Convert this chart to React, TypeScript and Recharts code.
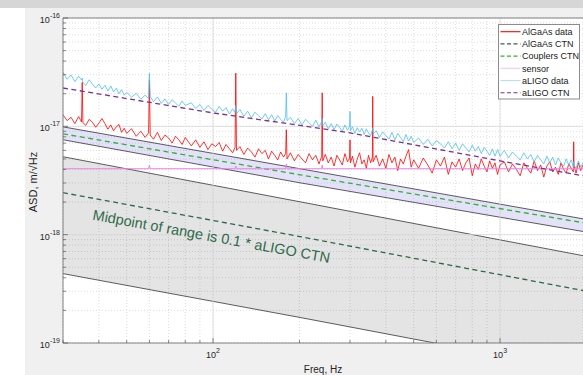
import React from 'react';
import { ComposedChart, Line, Area, XAxis, YAxis, CartesianGrid, ReferenceLine, Label } from 'recharts';

const FONT = '"Liberation Sans", Arial, Helvetica, sans-serif';
const UNIT = 1e-18; // all values below are in units of 1e-18 m/√Hz

// AlGaAs data / aLIGO data share this frequency grid (Hz)
const FREQ = [
  30, 31, 32, 33, 34, 34.8, 35, 35.2, 36, 37, 38, 39, 40, 41, 42, 43, 44, 45, 46, 47, 48, 49, 50,
  52, 54, 56, 58, 59.6, 60, 60.4, 62, 64, 66, 68, 70, 72, 74, 76, 78, 80,
  84, 87, 90, 93, 96, 99, 102, 105, 108, 111, 114, 117, 119.3, 120, 120.7,
  124, 128, 132, 136, 140, 144, 148, 152, 156, 160, 164, 168, 172, 176, 179, 180, 181,
  186, 192, 198, 204, 210, 216, 222, 228, 234, 239, 240, 241,
  246, 252, 258, 264, 270, 276, 282, 288, 294, 299, 300, 301, 306, 312, 318, 324, 330, 336, 342, 348, 354, 359, 360, 361,
  370, 380, 390, 400, 410, 420, 430, 440, 450, 460, 470, 480, 490, 500,
  520, 540, 560, 580, 600, 620, 640, 660, 680, 700, 720, 740, 760, 780, 800, 820, 840, 860, 880, 900, 920, 940, 960, 980, 1000,
  1035, 1070, 1105, 1140, 1175, 1210, 1245, 1280, 1315, 1350, 1385, 1420, 1455, 1490, 1525, 1560, 1595, 1630, 1665, 1700, 1735, 1770, 1800, 1805, 1810, 1840, 1875, 1910, 1945,
];

const ALGAAS_DATA = [
  12.8, 11.3, 12.1, 10.6, 12.3, 11.0, 25.5, 10.8, 10.2, 11.6, 10.9, 9.8, 10.7, 11.8, 10.6, 9.4, 10.3, 9.1, 9.9, 10.4, 8.8, 9.6, 8.6,
  9.5, 8.1, 9.0, 7.9, 8.7, 26.8, 8.3, 7.6, 8.8, 7.4, 8.3, 7.8, 7.0, 8.1, 7.5, 6.8, 7.9,
  6.6, 7.5, 6.4, 7.2, 6.1, 6.9, 6.5, 7.1, 5.9, 6.8, 6.2, 5.7, 6.4, 31.0, 6.0,
  6.5, 5.5, 6.3, 5.8, 5.2, 6.2, 5.6, 6.0, 5.0, 5.9, 5.4, 4.9, 5.8, 5.2, 5.6, 9.3, 5.0,
  5.7, 4.8, 5.5, 5.0, 4.6, 5.6, 4.9, 5.4, 4.5, 5.3, 20.4, 4.8,
  5.5, 4.6, 5.2, 4.3, 5.4, 4.9, 4.4, 5.6, 4.7, 5.1, 7.5, 4.6, 5.3, 4.2, 5.0, 5.7, 4.5, 4.9, 4.1, 5.4, 4.6, 5.2, 18.9, 4.7,
  5.4, 4.3, 5.0, 4.1, 5.5, 4.6, 5.2, 3.9, 5.0, 4.5, 5.3, 6.1, 4.2, 4.9,
  4.1, 5.1, 4.4, 3.7, 4.9, 4.3, 5.2, 3.6, 4.7, 4.2, 5.0, 3.9, 4.6, 5.1, 3.5, 4.5, 4.0, 5.0, 4.3, 3.8, 4.8, 4.1, 4.6, 3.6, 4.4,
  4.7, 3.8, 4.5, 4.0, 3.5, 4.6, 4.1, 3.7, 4.8, 3.9, 4.4, 3.4, 4.3, 4.7, 3.8, 4.2, 3.6, 4.6, 4.0, 3.7, 4.5, 4.1, 3.8, 7.2, 4.3, 3.7, 4.6, 3.9, 4.4,
];

const ALIGO_DATA = [
  31.5, 27.2, 29.8, 25.9, 29.0, 26.8, 27.8, 25.5, 23.8, 26.9, 24.5, 22.6, 24.6, 22.0, 23.9, 21.2, 23.6, 20.8, 22.5, 20.0, 21.8, 19.4, 20.6,
  18.6, 20.2, 17.8, 19.4, 18.0, 30.8, 18.8, 16.9, 18.7, 16.3, 17.9, 15.9, 17.6, 16.4, 15.3, 17.1, 15.6,
  16.5, 14.6, 15.9, 14.0, 15.6, 14.4, 13.5, 15.3, 13.8, 14.9, 13.0, 14.5, 13.4, 15.5, 13.1,
  14.3, 12.4, 13.8, 12.0, 13.5, 12.5, 11.7, 13.1, 11.5, 12.8, 11.2, 12.6, 11.6, 10.9, 12.3, 20.4, 11.3,
  12.1, 10.6, 11.8, 10.3, 11.6, 10.8, 10.0, 11.4, 9.9, 11.0, 11.8, 10.1,
  10.9, 9.5, 10.6, 9.3, 10.5, 9.8, 9.0, 10.3, 9.2, 10.0, 13.7, 9.1, 9.9, 8.6, 9.7, 8.9, 9.6, 8.4, 9.5, 8.7, 8.2, 9.3, 9.7, 8.5,
  9.1, 7.9, 8.9, 8.2, 7.6, 8.8, 7.5, 8.6, 7.9, 7.2, 8.4, 7.3, 8.1, 7.1,
  7.8, 6.8, 7.6, 6.6, 7.4, 6.9, 6.3, 7.2, 6.2, 7.0, 6.0, 6.9, 6.3, 5.8, 6.7, 5.9, 6.5, 5.6, 6.4, 5.9, 5.4, 6.2, 5.3, 6.1, 5.3,
  6.0, 5.1, 5.8, 5.3, 4.9, 5.7, 5.0, 5.5, 4.7, 5.4, 4.9, 4.5, 5.3, 4.6, 5.2, 4.4, 5.1, 4.6, 4.3, 5.0, 4.4, 4.9, 4.2, 4.7, 4.4, 4.1, 4.8, 4.2, 4.6,
];

const SENSOR_FREQ = [30, 59.6, 60, 60.4, 119.3, 120, 120.7, 179, 180, 181, 239, 240, 241, 1945];
const SENSOR = [4.06, 4.06, 4.4, 4.06, 4.06, 4.3, 4.06, 4.06, 4.5, 4.06, 4.06, 4.4, 4.06, 4.06];

const BAND_FREQ = [30, 201, 1945];
const RANGE_LO = [0.437, 0.172, 0.055];
const RANGE_HI = [5.24, 2.01, 0.64];
const COUPLER_LO = [7.52, 3.01, 1.07];
const COUPLER_HI = [9.89, 4.06, 1.4];
const COUPLERS_CTN = [8.53, 3.57, 1.29];
const ALGAAS_CTN = [2.44, 0.96, 0.305];
const ALIGO_CTN_FREQ = [30, 100, 201, 300, 1000, 1945];
const ALIGO_CTN = [22.6, 13.3, 10.2, 8.7, 4.8, 3.5];

const X_TICKS = [30, 40, 50, 60, 70, 80, 90, 100, 200, 300, 400, 500, 600, 700, 800, 900, 1000];
const Y_DECADES = [1e-19, 1e-18, 1e-17, 1e-16];
const Y_MINOR = [2, 3, 4, 5, 6, 7, 8, 9];
const LEGEND_NAMES = ['AlGaAs data', 'AlGaAs CTN', 'Couplers CTN', 'sensor', 'aLIGO data', 'aLIGO CTN'];
const NOTE = 'Midpoint of range is 0.1 * aLIGO CTN';
const X_LABEL = 'Freq, Hz';
const Y_LABEL = 'ASD, m/\u221AHz';

const RED = '#ff0000';
const DARK_GREEN = '#2d6747';
const GREEN = '#2db52d';
const MAGENTA = '#ee7eee';
const BLUE = '#4dbeee';
const PURPLE = '#7e2f8e';

const LEGEND_STYLE = [
  { color: RED, dash: undefined, opacity: 1 },
  { color: DARK_GREEN, dash: '4 2.5', opacity: 1 },
  { color: GREEN, dash: '4 2.5', opacity: 1 },
  { color: MAGENTA, dash: undefined, opacity: 0.45 },
  { color: BLUE, dash: undefined, opacity: 0.45 },
  { color: PURPLE, dash: '4 2.5', opacity: 1 },
];

const bandRows = BAND_FREQ.map((f, i) => ({
  f,
  range: [RANGE_LO[i] * UNIT, RANGE_HI[i] * UNIT],
  coupler: [COUPLER_LO[i] * UNIT, COUPLER_HI[i] * UNIT],
  couplersCtn: COUPLERS_CTN[i] * UNIT,
  algaasCtn: ALGAAS_CTN[i] * UNIT,
}));

const series = (fs: number[], vs: number[], key: string) => fs.map((f, i) => ({ f, [key]: vs[i] * UNIT }));
const algaasData = series(FREQ, ALGAAS_DATA, 'algaas');
const aligoData = series(FREQ, ALIGO_DATA, 'aligo');
const sensorData = series(SENSOR_FREQ, SENSOR, 'sensor');
const aligoCtnData = series(ALIGO_CTN_FREQ, ALIGO_CTN, 'aligoCtn');

const Y_TICKS = [...Y_DECADES, ...Y_DECADES.slice(0, 3).flatMap((d) => Y_MINOR.map((m) => m * d))].sort((a, b) => a - b);

const isDecade = (v: number) => Math.abs(Math.log10(v) - Math.round(Math.log10(v))) < 1e-6;

const YTick = (props: any) => {
  const { x, y, payload } = props;
  const v = payload.value;
  const major = isDecade(v);
  return (
    <g>
      <line x1={x} x2={x + (major ? 5 : 3)} y1={y} y2={y} stroke="#555" strokeWidth={0.7} />
      {major && (
        <text x={x - 3} y={y + 5} textAnchor="end" fontSize={9} fontFamily={FONT} fill="#262626">
          10<tspan dy={-5} fontSize={7}>{Math.round(Math.log10(v))}</tspan>
        </text>
      )}
    </g>
  );
};

const XTick = (props: any) => {
  const { x, y, payload } = props;
  const v = payload.value;
  const major = isDecade(v);
  return (
    <g>
      <line x1={x} x2={x} y1={y} y2={y - (major ? 5 : 3)} stroke="#555" strokeWidth={0.7} />
      {major && (
        <text x={x} y={y + 15} textAnchor="middle" fontSize={9} fontFamily={FONT} fill="#262626">
          10<tspan dy={-5} fontSize={7}>{Math.round(Math.log10(v))}</tspan>
        </text>
      )}
    </g>
  );
};

const YLabel = (props: any) => {
  const vb = props.viewBox || { x: 0, y: 10, width: 38, height: 325 };
  const cx = vb.x + 12;
  const cy = vb.y + vb.height / 2 + 1.5;
  return (
    <text x={cx} y={cy} transform={`rotate(-90, ${cx}, ${cy})`} textAnchor="middle" fontSize={11} fontFamily={FONT} fill="#262626">
      {Y_LABEL}
    </text>
  );
};

export default function App() {
  return (
    <div style={{ position: 'absolute', left: 0, top: 0, width: 583, height: 375, background: '#fff', overflow: 'hidden' }}>
      <div style={{ position: 'absolute', left: 0, top: 0, width: 583, height: 8, background: '#d6d6d6' }} />
      <div style={{ position: 'absolute', left: 25, top: 8, width: 558, height: 367, background: '#f0f0f0' }}>
        <ComposedChart width={558} height={367} data={bandRows} margin={{ top: 10, right: 0, bottom: 0, left: 0 }}>
          <CartesianGrid fill="#ffffff" stroke="#cfcfcf" strokeDasharray="1 2" strokeWidth={0.7} />
          <XAxis
            dataKey="f"
            type="number"
            scale="log"
            domain={[30, 1945]}
            allowDataOverflow
            ticks={X_TICKS}
            interval={0}
            tickSize={0}
            tickMargin={0}
            tickLine={false}
            tick={(p: any) => <XTick {...p} />}
            height={32}
            axisLine={{ stroke: '#808080' }}
          >
            <Label value={X_LABEL} position="insideBottom" offset={2} style={{ fontSize: 10, fontFamily: FONT, fill: '#262626' }} />
          </XAxis>
          <YAxis
            type="number"
            scale="log"
            domain={[1e-19, 1e-16]}
            allowDataOverflow
            ticks={Y_TICKS}
            interval={0}
            tickSize={0}
            tickMargin={0}
            tickLine={false}
            tick={(p: any) => <YTick {...p} />}
            width={38}
            axisLine={{ stroke: '#808080' }}
          >
            <Label content={(p: any) => <YLabel {...p} />} />
          </YAxis>
          <ReferenceLine x={100} stroke="#d9d9d9" strokeWidth={0.8} />
          <ReferenceLine x={1000} stroke="#d9d9d9" strokeWidth={0.8} />
          <ReferenceLine y={1e-18} stroke="#d9d9d9" strokeWidth={0.8} />
          <ReferenceLine y={1e-17} stroke="#d9d9d9" strokeWidth={0.8} />
          <Area type="linear" dataKey="range" fill="#000000" fillOpacity={0.105} stroke="#1a1a1a" strokeWidth={0.7} isAnimationActive={false} />
          <Area type="linear" dataKey="coupler" fill="#1e0dc5" fillOpacity={0.12} stroke="#1a1a1a" strokeWidth={0.7} isAnimationActive={false} />
          <Line data={algaasData} dataKey="algaas" stroke={RED} strokeWidth={0.8} dot={false} isAnimationActive={false} />
          <Line dataKey="algaasCtn" stroke={DARK_GREEN} strokeWidth={1.3} strokeDasharray="5 3.5" dot={false} isAnimationActive={false} />
          <Line dataKey="couplersCtn" stroke={GREEN} strokeWidth={1.3} strokeDasharray="5 3.5" dot={false} isAnimationActive={false} />
          <Line data={sensorData} dataKey="sensor" stroke={MAGENTA} strokeWidth={1} dot={false} isAnimationActive={false} />
          <Line data={aligoData} dataKey="aligo" stroke={BLUE} strokeWidth={0.8} dot={false} isAnimationActive={false} />
          <Line data={aligoCtnData} dataKey="aligoCtn" stroke={PURPLE} strokeWidth={1.3} strokeDasharray="5 3.5" dot={false} isAnimationActive={false} />
          <ReferenceLine y={1e-16} stroke="#808080" strokeWidth={1} />
        </ComposedChart>
      </div>
      <svg width={583} height={375} style={{ position: 'absolute', left: 0, top: 0, pointerEvents: 'none' }}>
        <text x={92} y={219.5} transform="rotate(10.4, 92, 219.5)" fontSize={14.5} fontFamily={FONT} fill="#2f6a4a">
          {NOTE}
        </text>
      </svg>
      <svg width={83} height={76} style={{ position: 'absolute', left: 498, top: 24 }}>
        <rect x={0.5} y={0.5} width={81} height={74.5} fill="#ffffff" stroke="#8c8c8c" strokeWidth={1} />
        {LEGEND_NAMES.map((name, i) => {
          const cy = 7.7 + i * 12.2;
          const s = LEGEND_STYLE[i];
          return (
            <g key={name}>
              <line x1={2.5} x2={22.5} y1={cy} y2={cy} stroke={s.color} strokeOpacity={s.opacity} strokeWidth={1.1} strokeDasharray={s.dash} />
              <text x={24} y={cy + 3.2} fontSize={9} fontFamily={FONT} fill="#1a1a1a">{name}</text>
            </g>
          );
        })}
      </svg>
    </div>
  );
}
